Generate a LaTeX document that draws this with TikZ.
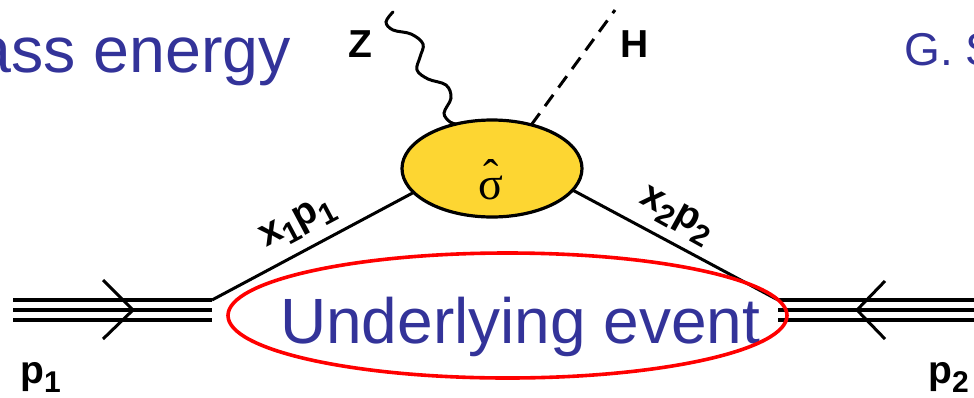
\documentclass[tikz,border=0pt]{standalone}
\usepackage{fontspec}
\setmainfont{Liberation Sans}
\newfontfamily\serifsym{Liberation Serif}
\usetikzlibrary{shapes.geometric}
\definecolor{txtblue}{RGB}{51,51,153}
\definecolor{blobyellow}{RGB}{253,214,50}
\newcommand\sbx[1]{\raisebox{-9pt}{\fontsize{30}{30}\selectfont #1}}
\begin{document}
\begin{tikzpicture}[x=1pt,y=-1pt,
  thick line/.style={line width=3.3pt, black},
  diag line/.style={line width=3pt, black},
  lbl/.style={font=\bfseries\fontsize{39}{40}\selectfont, inner sep=0pt},
  bluetext/.style={text=txtblue, inner sep=0pt, anchor=base west},
  chev/.style={line width=3pt, black, line join=miter},
  blobshape/.style={ellipse, minimum width=180pt, minimum height=97pt, inner sep=0pt}
]
\useasboundingbox (0,0) rectangle (974,397);
\clip (0,0) rectangle (974,397);

% header texts
\node[bluetext, font=\fontsize{64.5}{70}\selectfont] (title) at (-25,72) {ass energy};
\node[bluetext, font=\fontsize{46}{50}\selectfont] (auth) at (904,65) {G. S};

% junctions and beam ends
\coordinate (j1) at (212,300);
\coordinate (j2) at (778,300);
\coordinate (la) at (13,300);
\coordinate (lb) at (13,310);
\coordinate (lc) at (13,320);
\coordinate (jb1) at (212,310);
\coordinate (jc1) at (212,320);
\coordinate (ra) at (980,300);
\coordinate (rb) at (980,310);
\coordinate (rc) at (980,320);
\coordinate (jb2) at (778,310);
\coordinate (jc2) at (778,320);

% hard process blob (placement only)
\path node[blobshape] (blob) at (492,168.5) {};

% incoming partons
\draw[diag line] (j1) -- (blob.197);
\draw[diag line] (j2) -- (blob.-15);

% visible blob
\node[blobshape, fill=blobyellow, draw=black, line width=3.2pt] (blobtop) at (blob) {};

% sigma hat
\node[inner sep=0pt, font=\serifsym\fontsize{46}{46}\selectfont] (sig) at (491,188) {σ};
\node[inner sep=0pt, font=\serifsym\fontsize{46}{46}\selectfont, anchor=north] (hat) at (491,159) {\char"02C6};

% beams
\draw[thick line] (la) -- (j1);
\draw[thick line] (lb) -- (jb1);
\draw[thick line] (lc) -- (jc1);
\draw[thick line] (ra) -- (j2);
\draw[thick line] (rb) -- (jb2);
\draw[thick line] (rc) -- (jc2);

% chevrons
\coordinate (c1a) at (103,280);
\coordinate (c1t) at (133,310);
\coordinate (c1b) at (103,339);
\draw[chev] (c1a) -- (c1t) -- (c1b);
\coordinate (c2a) at (885,281);
\coordinate (c2t) at (857,310);
\coordinate (c2b) at (885,339);
\draw[chev] (c2a) -- (c2t) -- (c2b);

% Z boson (wavy)
\coordinate (zstart) at (393,12);
\draw[line width=3pt, line cap=round] plot[smooth, tension=0.6] coordinates
  {(zstart) (386,22) (393,30) (411,34) (423,44) (420,57) (417,70) (428,79) (446,85) (451,98) (444,113) (450,122) (blob.129)};

% Higgs (dashed)
\coordinate (hend) at (615,10);
\draw[line width=3pt, dash pattern=on 14pt off 9pt] (blob.48) -- (hend);

% labels
\node[lbl, anchor=base west] (zl) at (348,57) {Z};
\node[lbl, anchor=base west] (hl) at (620,57) {H};
\node[lbl, anchor=base west] (p1l) at (20,383) {p\sbx{1}};
\node[lbl, anchor=base west] (p2l) at (928,383) {p\sbx{2}};
\node[lbl, rotate=28] (x1l) at (298,224) {x\sbx{1}p\sbx{1}};
\node[lbl, rotate=-29] (x2l) at (676,216) {x\sbx{2}p\sbx{2}};

% underlying event
\node[bluetext, font=\fontsize{64}{70}\selectfont] (uetxt) at (280,343) {Underlying event};
\node[ellipse, minimum width=559pt, minimum height=125pt, inner sep=0pt,
      draw=red, line width=3.6pt] (ue) at (507.5,315.5) {};
\end{tikzpicture}
\end{document}
